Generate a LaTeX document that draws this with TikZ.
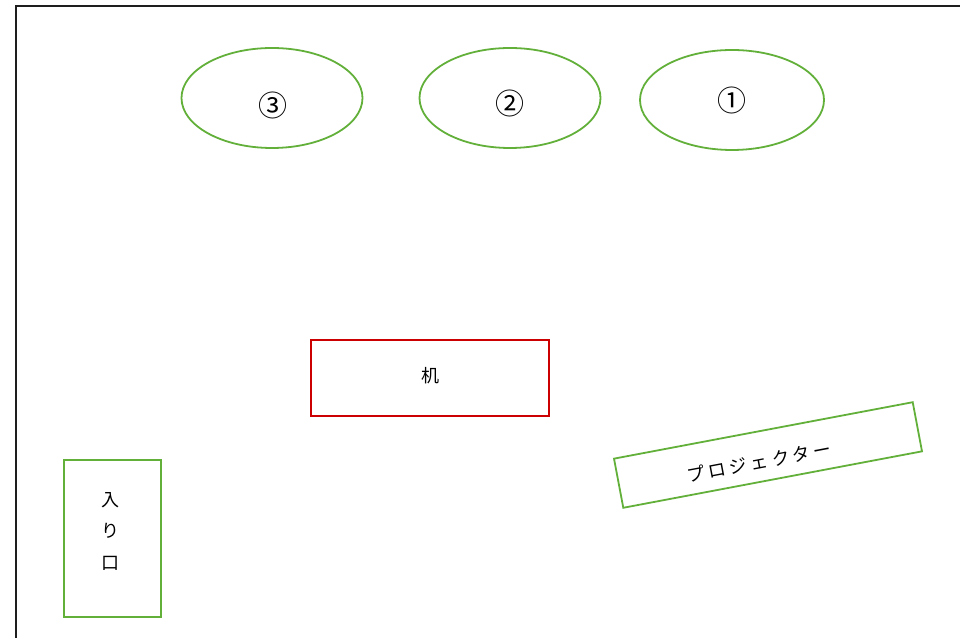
\documentclass[tikz,border=0pt]{standalone}
\usepackage{fontspec}
\setmainfont{Liberation Serif}
\newfontfamily\jp{Noto Sans CJK JP}
\usetikzlibrary{shapes.geometric}
\definecolor{grn}{RGB}{98,176,58}
\definecolor{rd}{RGB}{204,0,0}
\definecolor{frame}{RGB}{30,30,30}
\begin{document}
\begin{tikzpicture}[x=1pt,y=1pt,
  seat/.style={ellipse,draw=grn,line width=1.8pt,inner sep=0pt,minimum height=100pt},
  numlabel/.style={font=\jp\fontsize{29}{29}\selectfont,inner sep=0pt},
  box/.style={draw=grn,line width=1.8pt,inner sep=0pt},
  lbl/.style={font=\jp\fontsize{18}{18}\selectfont,inner sep=0pt}]
\useasboundingbox (0,0) rectangle (960,637);
\coordinate (tl) at (16,631);
\coordinate (tr) at (961,631);
\coordinate (bl) at (16,-1);
\draw[frame,line width=2pt] (tr) -- (tl) -- (bl);
% seats
\node[seat,minimum width=181pt] (s3) at (272,539) {};
\node[seat,minimum width=181pt] (s2) at (510,539) {};
\node[seat,minimum width=184pt] (s1) at (732,537) {};
\node[numlabel] (n3) at (273,532) {③};
\node[numlabel] (n2) at (510,534) {②};
\node[numlabel] (n1) at (732,537) {①};
% desk
\node[draw=rd,line width=1.8pt,minimum width=238pt,minimum height=76pt,inner sep=0pt] (desk) at (430,259) {};
\node[lbl] (deskt) at (430,261) {机};
% entrance
\node[box,minimum width=97pt,minimum height=157pt] (ent) at (112.5,98.5) {};
\node[lbl] (e1) at (110,137) {入};
\node[lbl] (e2) at (110,106) {り};
\node[lbl] (e3) at (110,74) {口};
% projector
\node[box,minimum width=304pt,minimum height=50pt,rotate=10.7] (proj) at (768,182) {};
\node[lbl,rotate=10.7] (projt) at (759,175) {\addfontfeature{LetterSpace=20}プロジェクター};
\end{tikzpicture}
\end{document}
